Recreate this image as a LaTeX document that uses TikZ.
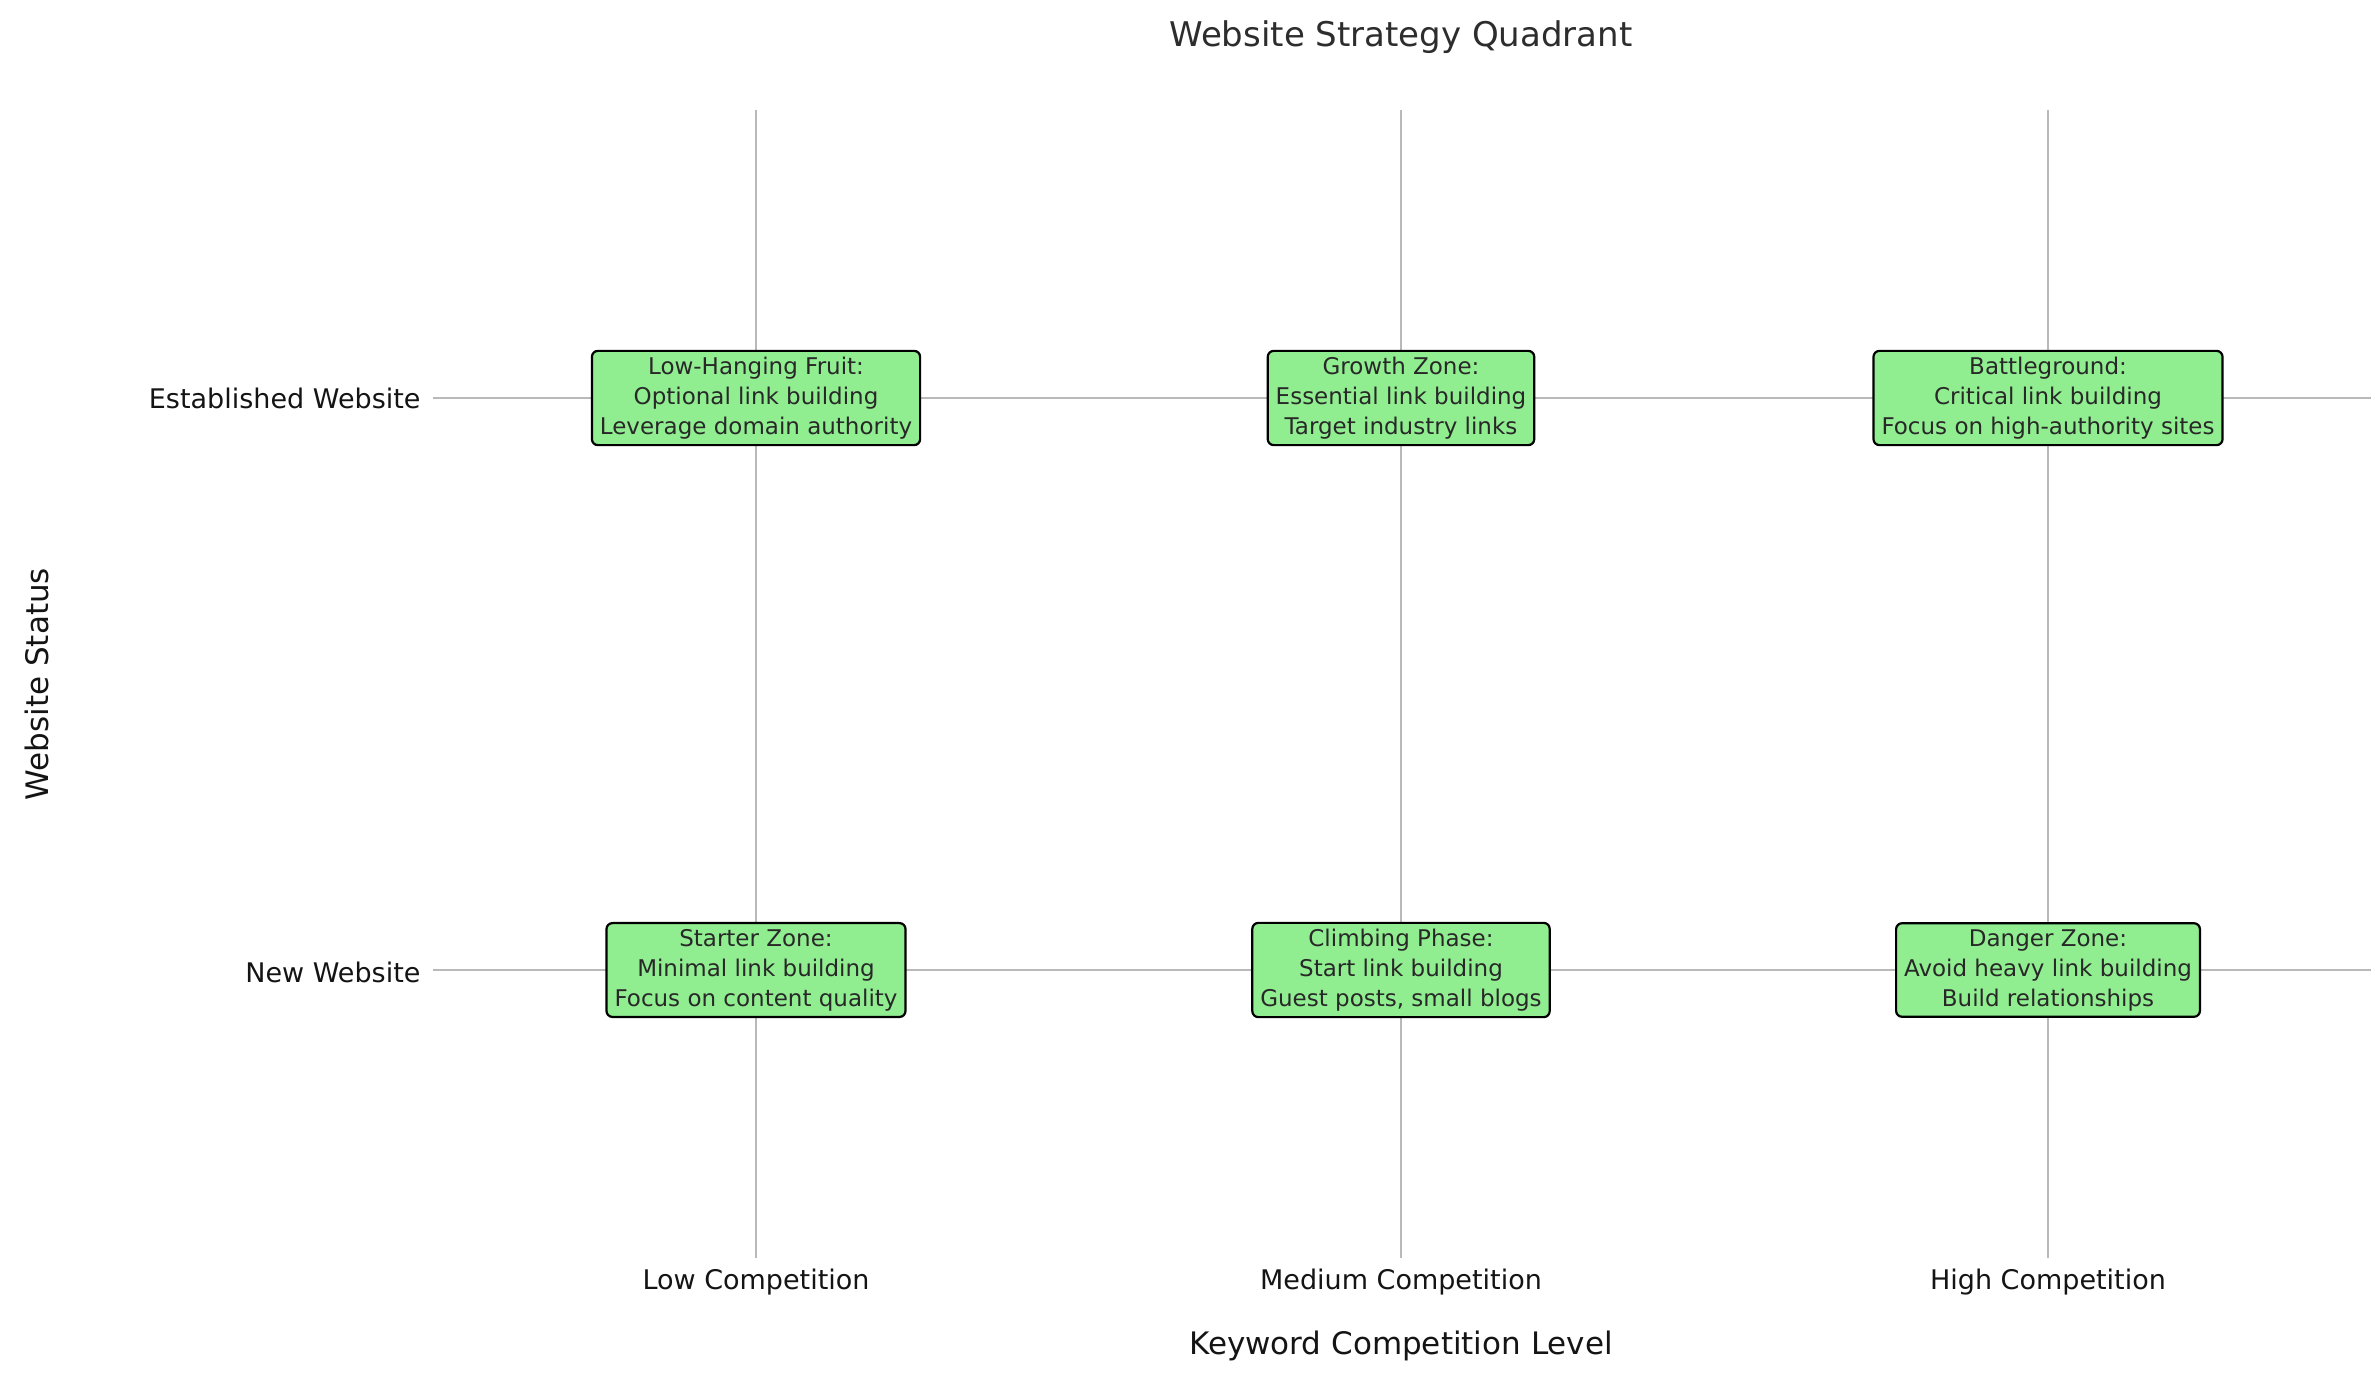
\documentclass[tikz,border=0pt]{standalone}
\usepackage{fontspec}
\setmainfont{DejaVu Sans}
\begin{document}
\begin{tikzpicture}[x=1pt,y=-1pt,
  grid/.style={draw=gray!55,line width=1.3pt},
  box/.style={draw=black,line width=2.2pt,fill={rgb,255:red,144;green,238;blue,144},rounded corners=6pt,align=center,inner xsep=8pt,inner ysep=6pt,font=\fontsize{23}{30}\selectfont,text={rgb,255:red,40;green,40;blue,40}},
  tick/.style={font=\fontsize{27}{32}\selectfont,text={rgb,255:red,20;green,20;blue,20}},
  lab/.style={font=\fontsize{31}{36}\selectfont,text={rgb,255:red,20;green,20;blue,20}}]
\useasboundingbox (0,0) rectangle (2379,1380);
\coordinate (t1) at (756,110); \coordinate (b1) at (756,1258);
\coordinate (t2) at (1401,110); \coordinate (b2) at (1401,1258);
\coordinate (t3) at (2048,110); \coordinate (b3) at (2048,1258);
\coordinate (l1) at (433,398); \coordinate (r1) at (2371,398);
\coordinate (l2) at (433,970); \coordinate (r2) at (2371,970);
\draw[grid] (t1)--(b1) (t2)--(b2) (t3)--(b3) (l1)--(r1) (l2)--(r2);
\node[box] (a) at (756,398) {Low-Hanging Fruit:\\Optional link building\\Leverage domain authority};
\node[box] (b) at (1401,398) {Growth Zone:\\Essential link building\\Target industry links};
\node[box] (c) at (2048,398) {Battleground:\\Critical link building\\Focus on high-authority sites};
\node[box] (d) at (756,970) {Starter Zone:\\Minimal link building\\Focus on content quality};
\node[box] (e) at (1401,970) {Climbing Phase:\\Start link building\\Guest posts, small blogs};
\node[box] (f) at (2048,970) {Danger Zone:\\Avoid heavy link building\\Build relationships};
\node[tick,anchor=east] (y1) at (424,398) {Established Website};
\node[tick,anchor=east] (y2) at (424,972) {New Website};
\node[tick] (x1) at (756,1282) {Low Competition};
\node[tick] (x2) at (1401,1282) {Medium Competition};
\node[tick] (x3) at (2048,1282) {High Competition};
\node[lab] (xl) at (1401,1346) {Keyword Competition Level};
\node[lab,rotate=90] (yl) at (37,684) {Website Status};
\node[font=\fontsize{34}{40}\selectfont,text={rgb,255:red,45;green,45;blue,45}] (ti) at (1401,37) {Website Strategy Quadrant};
\end{tikzpicture}
\end{document}
